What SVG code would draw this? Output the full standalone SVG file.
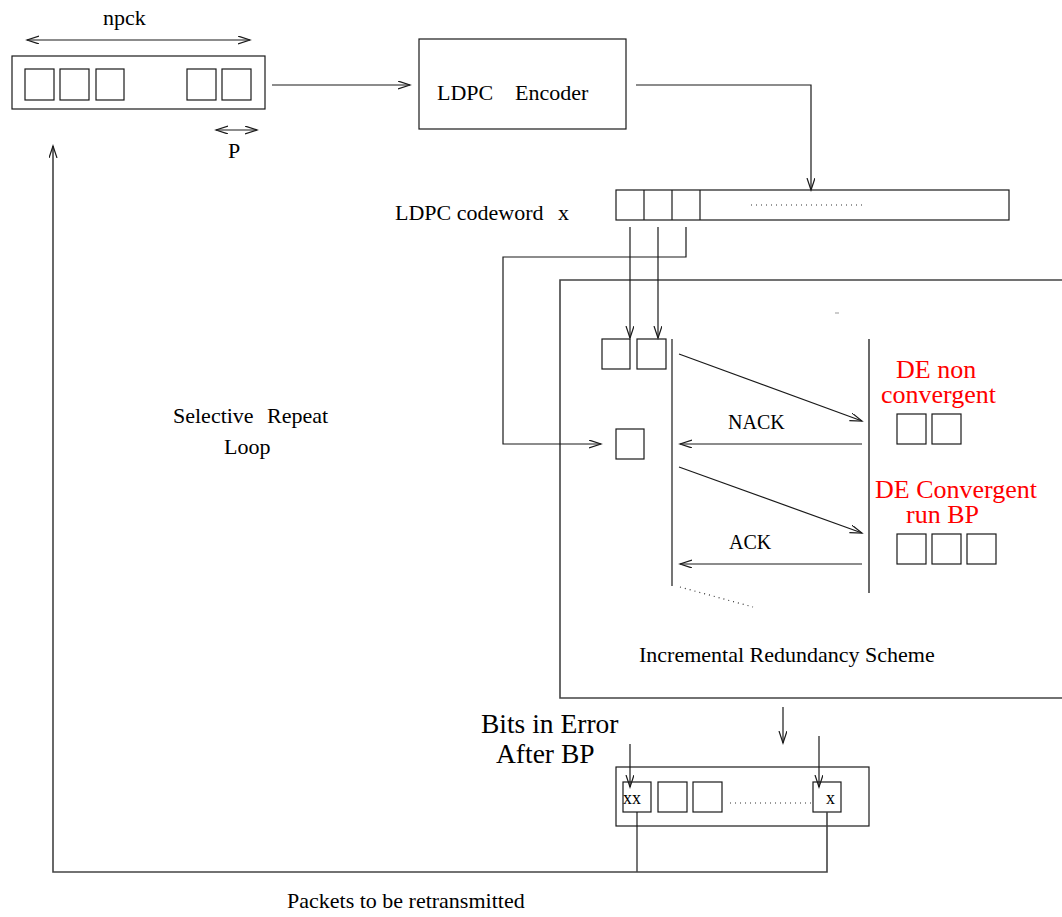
<svg xmlns="http://www.w3.org/2000/svg" width="1062" height="917" viewBox="0 0 1062 917">
<style>
.ln{fill:none;stroke:#1a1a1a;stroke-width:1.2}
.bx{fill:none;stroke:#1a1a1a;stroke-width:1.2}
.gb{fill:none;stroke:#444;stroke-width:1.6}
.t{font-family:"Liberation Serif","Times New Roman",serif;font-size:22px;fill:#000}
.s{font-size:20px}
.r{font-family:"Liberation Serif","Times New Roman",serif;font-size:26px;fill:#ff0000}
.b{font-size:27.5px}
.dot{fill:none;stroke:#333;stroke-width:1.2;stroke-dasharray:1 4}
</style>
<defs>
<marker id="ah" markerUnits="userSpaceOnUse" markerWidth="14" markerHeight="10" refX="12" refY="4" orient="auto-start-reverse" viewBox="0 0 14 10">
<path d="M0,0 L12,4 L0,8" fill="none" stroke="#1a1a1a" stroke-width="1.2"/>
</marker>
</defs>
<rect width="1062" height="917" fill="#fff"/>

<g id="source-buffer">
<text class="t" x="103" y="25">npck</text>
<rect class="bx" x="12" y="56" width="253" height="53"/>
<rect class="bx" x="25" y="69" width="29" height="31"/>
<rect class="bx" x="60" y="69" width="29" height="31"/>
<rect class="bx" x="96" y="69" width="28" height="31"/>
<rect class="bx" x="187" y="69" width="29" height="31"/>
<rect class="bx" x="222" y="69" width="29" height="31"/>
<text class="t" x="228" y="158">P</text>
</g>

<g id="encoder">
<rect class="bx" x="419" y="39" width="207" height="90"/>
<text class="t" x="437" y="100">LDPC</text>
<text class="t" x="515" y="100">Encoder</text>
</g>

<g id="codeword">
<text class="t" x="395" y="220">LDPC codeword</text>
<text class="t" x="558" y="220">x</text>
<rect class="bx" x="616" y="190" width="393" height="30"/>
<line class="ln" x1="644" y1="190" x2="644" y2="220"/>
<line class="ln" x1="672" y1="190" x2="672" y2="220"/>
<line class="ln" x1="700" y1="190" x2="700" y2="220"/>
<line class="dot" x1="751" y1="205" x2="866" y2="205"/>
</g>

<g id="ir-scheme">
<path class="gb" d="M1062,280 H560 V698 H1062"/>
<rect class="bx" x="602" y="339" width="28" height="30"/>
<rect class="bx" x="637" y="339" width="29" height="30"/>
<rect class="bx" x="616" y="429" width="28" height="30"/>
<line class="ln" x1="672" y1="339" x2="672" y2="586"/>
<line class="gb" x1="869" y1="339" x2="869" y2="593"/>
<line x1="835" y1="313" x2="839" y2="313" stroke="#999" stroke-width="1"/>
<text class="r" x="896" y="378">DE non</text>
<text class="r" x="881" y="403">convergent</text>
<rect class="bx" x="897" y="414" width="29" height="30"/>
<rect class="bx" x="932" y="414" width="29" height="30"/>
<text class="r" x="875" y="498">DE Convergent</text>
<text class="r" x="906" y="523">run BP</text>
<rect class="bx" x="897" y="534" width="29" height="30"/>
<rect class="bx" x="932" y="534" width="29" height="30"/>
<rect class="bx" x="967" y="534" width="29" height="30"/>
<text class="t s" x="728" y="429">NACK</text>
<text class="t s" x="729" y="549">ACK</text>
<line class="dot" x1="680" y1="587" x2="753" y2="607"/>
<text class="t" x="639" y="662">Incremental Redundancy Scheme</text>
</g>

<g id="output-buffer">
<text class="t b" x="481" y="733">Bits in Error</text>
<text class="t b" x="496" y="763">After BP</text>
<rect class="bx" x="616" y="767" width="253" height="59"/>
<rect class="bx" x="623" y="782" width="28" height="30"/>
<rect class="bx" x="658" y="782" width="29" height="30"/>
<rect class="bx" x="693" y="782" width="29" height="30"/>
<rect class="bx" x="813" y="782" width="28" height="30"/>
<line class="dot" x1="730" y1="803" x2="811" y2="803"/>
<text class="t" style="font-size:18px" x="623" y="804">xx</text>
<text class="t" style="font-size:18px" x="826" y="804">x</text>
</g>

<g id="loop-label">
<text class="t" x="173" y="423">Selective</text>
<text class="t" x="267" y="423">Repeat</text>
<text class="t" x="224" y="454">Loop</text>
<text class="t" x="287" y="908">Packets to be retransmitted</text>
</g>

<g id="connectors">
<line class="ln" x1="27" y1="40" x2="250" y2="40" marker-start="url(#ah)" marker-end="url(#ah)"/>
<line class="ln" x1="216" y1="130" x2="257" y2="130" marker-start="url(#ah)" marker-end="url(#ah)"/>
<line class="ln" x1="272" y1="85" x2="410" y2="85" marker-end="url(#ah)"/>
<path class="ln" d="M636,85 H811 V190" marker-end="url(#ah)"/>
<line class="ln" x1="630" y1="227" x2="630" y2="338" marker-end="url(#ah)"/>
<line class="ln" x1="658" y1="227" x2="658" y2="338" marker-end="url(#ah)"/>
<path class="ln" d="M686,227 V257 H503 V444 H601" marker-end="url(#ah)"/>
<line class="ln" x1="679" y1="354" x2="862" y2="421" marker-end="url(#ah)"/>
<line class="ln" x1="862" y1="444" x2="680" y2="444" marker-end="url(#ah)"/>
<line class="ln" x1="679" y1="467" x2="862" y2="533" marker-end="url(#ah)"/>
<line class="ln" x1="862" y1="564" x2="680" y2="564" marker-end="url(#ah)"/>
<line class="ln" x1="783" y1="707" x2="783" y2="743" marker-end="url(#ah)"/>
<line class="ln" x1="630" y1="744" x2="630" y2="787" marker-end="url(#ah)"/>
<line class="ln" x1="819" y1="736" x2="819" y2="787" marker-end="url(#ah)"/>
<path class="ln" d="M637,812 V872"/>
<path class="gb" d="M827,812 V872 H53 V146" marker-end="url(#ah)"/>
</g>
</svg>
